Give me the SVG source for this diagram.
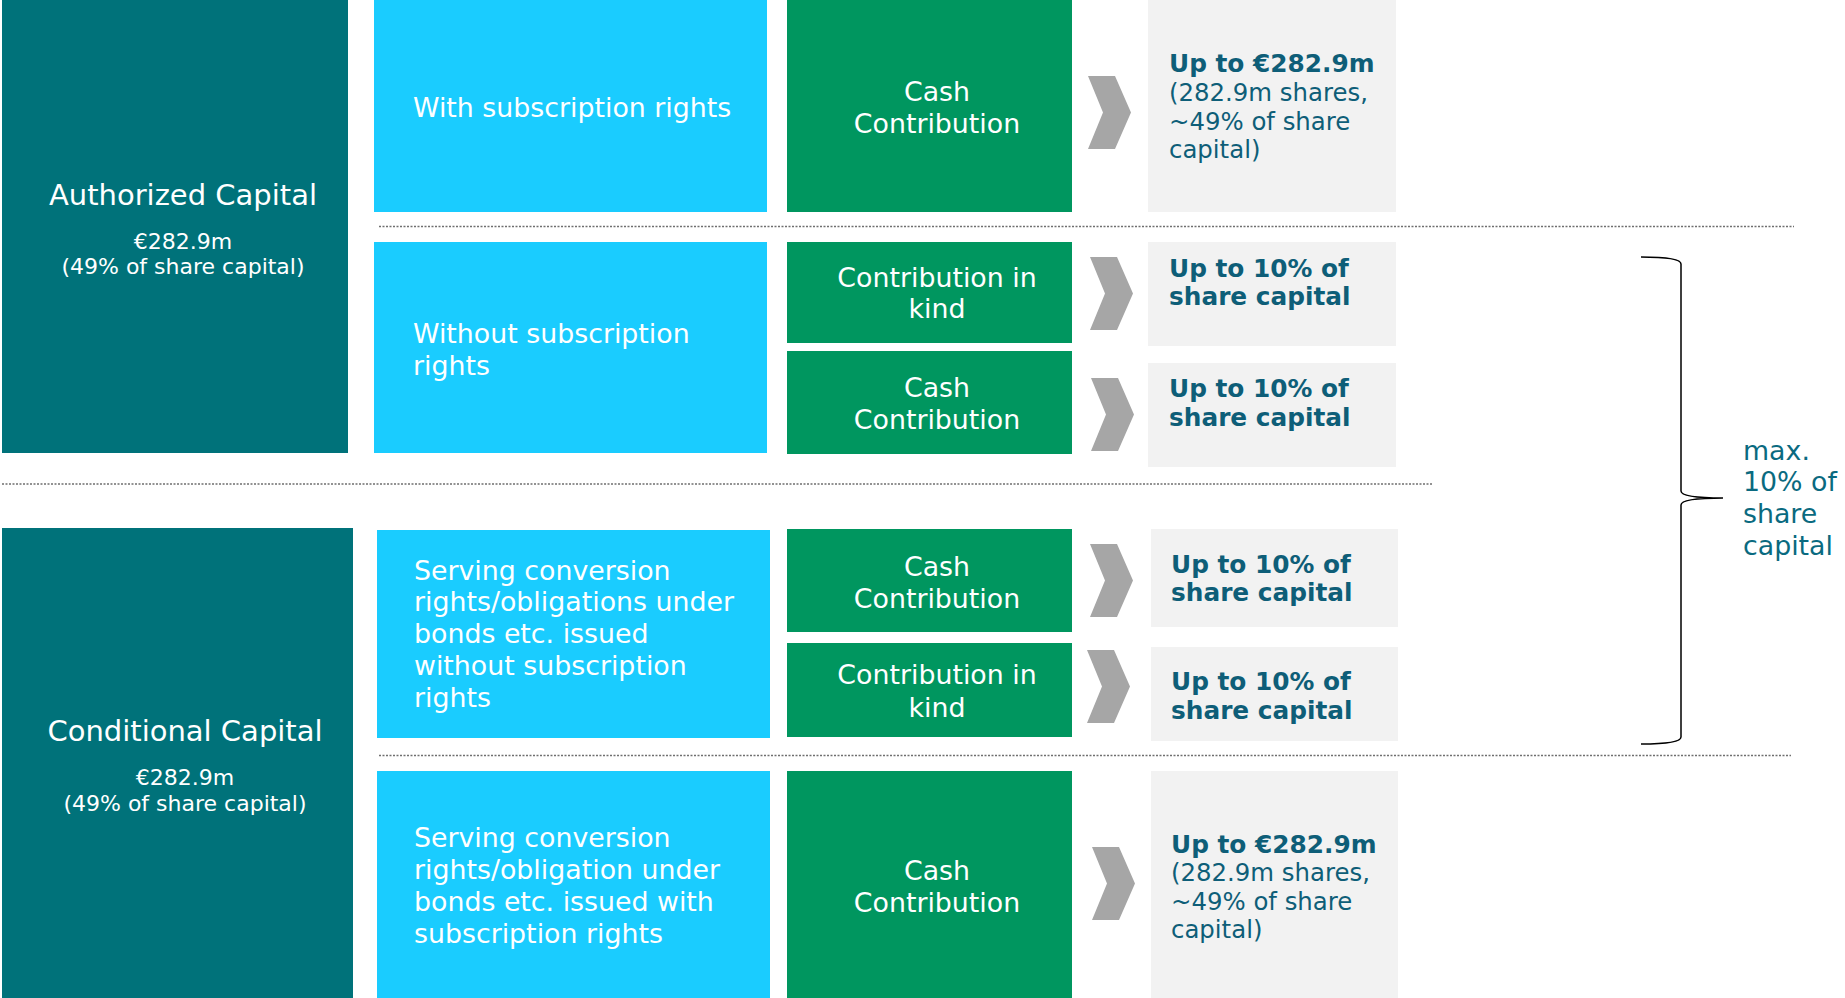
<svg xmlns="http://www.w3.org/2000/svg" xmlns:xlink="http://www.w3.org/1999/xlink" width="1845" height="998" viewBox="0 0 1845 998">
<style>
text{font-family:Verdana,"DejaVu Sans",sans-serif}
.teal{fill:#00727A}
.lb{fill:#1ACCFF}
.gr{fill:#00965F}
.gy{fill:#F2F2F2}
.chev{fill:#A6A6A6}
.w{fill:#FFFFFF}
.title{font-size:29px}
.sub{font-size:22px}
.lbt{font-size:26.8px;fill:#FFFFFF}
.gt{font-size:26.8px;fill:#FFFFFF;text-anchor:middle}
.res{font-size:24.4px;fill:#0E5E78}
.b{font-weight:bold;font-size:24.8px}
.dot{stroke:#6F6F6F;stroke-width:1.4;stroke-dasharray:2 1.5;fill:none}
.brace{stroke:#000;stroke-width:1.5;fill:none}
.maxt{font-size:26.8px;fill:#0A6A80}
</style>
<defs>
<path id="chev" d="M0,0 L27,0 L43,36.5 L27,73 L0,73 L15,36.5 Z"/>
</defs>
<rect width="1845" height="998" fill="#FFFFFF"/>

<g id="authorized">
<rect class="teal" x="2" y="0" width="346" height="453"/>
<text class="title w" x="183" y="205" text-anchor="middle">Authorized Capital</text>
<text class="sub w" x="183" y="249" text-anchor="middle">€282.9m</text>
<text class="sub w" x="183" y="274" text-anchor="middle">(49% of share capital)</text>
</g>

<g id="conditional">
<rect class="teal" x="2" y="528" width="351" height="470"/>
<text class="title w" x="185" y="741" text-anchor="middle">Conditional Capital</text>
<text class="sub w" x="185" y="785" text-anchor="middle">€282.9m</text>
<text class="sub w" x="185" y="811" text-anchor="middle">(49% of share capital)</text>
</g>

<g id="with-rights">
<rect class="lb" x="374" y="0" width="393" height="212"/>
<text class="lbt" x="413" y="117">With subscription rights</text>
</g>
<g id="without-rights">
<rect class="lb" x="374" y="242" width="393" height="211"/>
<text class="lbt" x="413" y="343">Without subscription</text>
<text class="lbt" x="413" y="375">rights</text>
</g>
<g id="serving-without">
<rect class="lb" x="377" y="530" width="393" height="208"/>
<text class="lbt" x="414" y="580">Serving conversion</text>
<text class="lbt" x="414" y="611">rights/obligations under</text>
<text class="lbt" x="414" y="643">bonds etc. issued</text>
<text class="lbt" x="414" y="675">without subscription</text>
<text class="lbt" x="414" y="707">rights</text>
</g>
<g id="serving-with">
<rect class="lb" x="377" y="771" width="393" height="227"/>
<text class="lbt" x="414" y="847">Serving conversion</text>
<text class="lbt" x="414" y="879">rights/obligation under</text>
<text class="lbt" x="414" y="911">bonds etc. issued with</text>
<text class="lbt" x="414" y="943">subscription rights</text>
</g>

<g id="cash1">
<rect class="gr" x="787" y="0" width="285" height="212"/>
<text class="gt" x="937" y="101">Cash</text>
<text class="gt" x="937" y="133">Contribution</text>
</g>
<g id="kind1">
<rect class="gr" x="787" y="242" width="285" height="101"/>
<text class="gt" x="937" y="287">Contribution in</text>
<text class="gt" x="937" y="318">kind</text>
</g>
<g id="cash2">
<rect class="gr" x="787" y="351" width="285" height="103"/>
<text class="gt" x="937" y="397">Cash</text>
<text class="gt" x="937" y="429">Contribution</text>
</g>
<g id="cash3">
<rect class="gr" x="787" y="529" width="285" height="103"/>
<text class="gt" x="937" y="576">Cash</text>
<text class="gt" x="937" y="608">Contribution</text>
</g>
<g id="kind2">
<rect class="gr" x="787" y="643" width="285" height="94"/>
<text class="gt" x="937" y="684">Contribution in</text>
<text class="gt" x="937" y="717">kind</text>
</g>
<g id="cash4">
<rect class="gr" x="787" y="771" width="285" height="227"/>
<text class="gt" x="937" y="880">Cash</text>
<text class="gt" x="937" y="912">Contribution</text>
</g>

<g id="res1">
<rect class="gy" x="1148" y="0" width="248" height="212"/>
<text class="res b" x="1169" y="72">Up to €282.9m</text>
<text class="res" x="1169" y="101">(282.9m shares,</text>
<text class="res" x="1169" y="130">~49% of share</text>
<text class="res" x="1169" y="158">capital)</text>
</g>
<g id="res2">
<rect class="gy" x="1148" y="242" width="248" height="104"/>
<text class="res b" x="1169" y="277">Up to 10% of</text>
<text class="res b" x="1169" y="305">share capital</text>
</g>
<g id="res3">
<rect class="gy" x="1148" y="363" width="248" height="104"/>
<text class="res b" x="1169" y="397">Up to 10% of</text>
<text class="res b" x="1169" y="426">share capital</text>
</g>
<g id="res4">
<rect class="gy" x="1151" y="529" width="247" height="98"/>
<text class="res b" x="1171" y="573">Up to 10% of</text>
<text class="res b" x="1171" y="601">share capital</text>
</g>
<g id="res5">
<rect class="gy" x="1151" y="647" width="247" height="94"/>
<text class="res b" x="1171" y="690">Up to 10% of</text>
<text class="res b" x="1171" y="719">share capital</text>
</g>
<g id="res6">
<rect class="gy" x="1151" y="771" width="247" height="227"/>
<text class="res b" x="1171" y="853">Up to €282.9m</text>
<text class="res" x="1171" y="881">(282.9m shares,</text>
<text class="res" x="1171" y="910">~49% of share</text>
<text class="res" x="1171" y="938">capital)</text>
</g>

<g id="connectors">
<use xlink:href="#chev" class="chev" x="1088" y="76"/>
<use xlink:href="#chev" class="chev" x="1090" y="257"/>
<use xlink:href="#chev" class="chev" x="1091" y="378"/>
<use xlink:href="#chev" class="chev" x="1090" y="544"/>
<use xlink:href="#chev" class="chev" x="1087" y="650"/>
<use xlink:href="#chev" class="chev" x="1092" y="847"/>
</g>

<g id="separators">
<line class="dot" x1="379" y1="226.5" x2="1794" y2="226.5"/>
<line class="dot" x1="2" y1="484" x2="1433" y2="484"/>
<line class="dot" x1="379" y1="755.5" x2="1791" y2="755.5"/>
</g>

<g id="brace-note">
<path class="brace" d="M1641,257 C1665,257 1681,259 1681,264 L1681,491 C1681,496 1695,498 1723,498 C1695,498 1681,500 1681,505 L1681,737 C1681,742 1665,744 1641,744"/>
<text class="maxt" x="1743" y="460">max.</text>
<text class="maxt" x="1743" y="491">10% of</text>
<text class="maxt" x="1743" y="523">share</text>
<text class="maxt" x="1743" y="555">capital</text>
</g>
</svg>
